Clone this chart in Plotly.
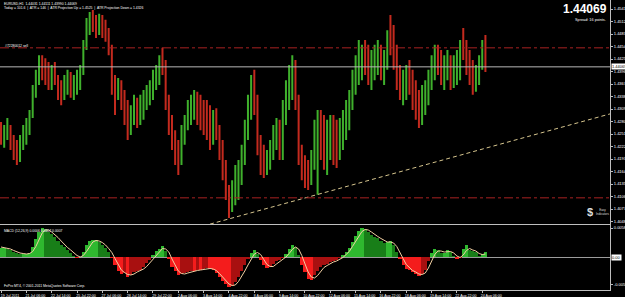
import plotly.graph_objects as go

open0 = 1.4249
highs = [1.4279, 1.4272, 1.4288, 1.4272, 1.4249, 1.4237, 1.4249, 1.4272, 1.4288, 1.4307,
         1.4365, 1.4400, 1.4434, 1.4434, 1.4427, 1.4418, 1.4411, 1.4418, 1.4388, 1.4376,
         1.4388, 1.4400, 1.4395, 1.4388, 1.4400, 1.4411, 1.4469, 1.4520, 1.4534, 1.4539,
         1.4527, 1.4530, 1.4527, 1.4516, 1.4497, 1.4458, 1.4388, 1.4381, 1.4376, 1.4353,
         1.4330, 1.4318, 1.4342, 1.4335, 1.4342, 1.4353, 1.4365, 1.4376, 1.4400, 1.4411,
         1.4434, 1.4451, 1.4423, 1.4342, 1.4295, 1.4260, 1.4237, 1.4272, 1.4295, 1.4330,
         1.4342, 1.4353, 1.4349, 1.4342, 1.4330, 1.4330, 1.4318, 1.4307, 1.4311, 1.4272,
         1.4237, 1.4191, 1.4133, 1.4144, 1.4179, 1.4191, 1.4226, 1.4284, 1.4342, 1.4388,
         1.4400, 1.4342, 1.4249, 1.4226, 1.4214, 1.4237, 1.4272, 1.4288, 1.4284, 1.4330,
         1.4376, 1.4411, 1.4434, 1.4423, 1.4342, 1.4226, 1.4202, 1.4191, 1.4214, 1.4284,
         1.4307, 1.4307, 1.4295, 1.4284, 1.4295, 1.4295, 1.4284, 1.4288, 1.4307, 1.4330,
         1.4353, 1.4400, 1.4434, 1.4469, 1.4458, 1.4469, 1.4458, 1.4446, 1.4458, 1.4469,
         1.4458, 1.4446, 1.4492, 1.4527, 1.4504, 1.4458, 1.4411, 1.4400, 1.4411, 1.4423,
         1.4400, 1.4376, 1.4353, 1.4365, 1.4376, 1.4400, 1.4434, 1.4458, 1.4458, 1.4446,
         1.4434, 1.4446, 1.4434, 1.4434, 1.4446, 1.4469, 1.4497, 1.4469, 1.4446, 1.4423,
         1.4411, 1.4434, 1.4469, 1.4481]
lows = [1.4226, 1.4219, 1.4237, 1.4214, 1.4191, 1.4179, 1.4186, 1.4214, 1.4226, 1.4249,
        1.4288, 1.4335, 1.4365, 1.4376, 1.4365, 1.4353, 1.4353, 1.4365, 1.4330, 1.4318,
        1.4330, 1.4342, 1.4335, 1.4330, 1.4342, 1.4353, 1.4388, 1.4446, 1.4481, 1.4488,
        1.4474, 1.4481, 1.4474, 1.4465, 1.4434, 1.4342, 1.4295, 1.4330, 1.4307, 1.4272,
        1.4237, 1.4249, 1.4272, 1.4265, 1.4272, 1.4284, 1.4307, 1.4318, 1.4330, 1.4353,
        1.4365, 1.4388, 1.4307, 1.4249, 1.4214, 1.4179, 1.4156, 1.4179, 1.4226, 1.4260,
        1.4272, 1.4284, 1.4272, 1.4260, 1.4249, 1.4237, 1.4214, 1.4226, 1.4237, 1.4191,
        1.4144, 1.4098, 1.4056, 1.4070, 1.4086, 1.4098, 1.4133, 1.4179, 1.4237, 1.4284,
        1.4295, 1.4202, 1.4156, 1.4149, 1.4156, 1.4168, 1.4191, 1.4214, 1.4191, 1.4191,
        1.4272, 1.4307, 1.4330, 1.4307, 1.4179, 1.4144, 1.4126, 1.4121, 1.4133, 1.4168,
        1.4110, 1.4191, 1.4168, 1.4156, 1.4191, 1.4179, 1.4172, 1.4191, 1.4214, 1.4237,
        1.4260, 1.4307, 1.4342, 1.4365, 1.4376, 1.4388, 1.4365, 1.4353, 1.4376, 1.4388,
        1.4376, 1.4365, 1.4400, 1.4434, 1.4400, 1.4353, 1.4330, 1.4318, 1.4330, 1.4342,
        1.4307, 1.4284, 1.4265, 1.4272, 1.4295, 1.4318, 1.4353, 1.4376, 1.4388, 1.4365,
        1.4353, 1.4376, 1.4353, 1.4358, 1.4365, 1.4376, 1.4423, 1.4388, 1.4365, 1.4342,
        1.4349, 1.4365, 1.4400, 1.4395]
closes = [1.4242, 1.4260, 1.4265, 1.4226, 1.4214, 1.4202, 1.4237, 1.4249, 1.4272, 1.4295,
          1.4349, 1.4381, 1.4411, 1.4400, 1.4388, 1.4376, 1.4395, 1.4381, 1.4349, 1.4342,
          1.4365, 1.4372, 1.4358, 1.4365, 1.4376, 1.4400, 1.4458, 1.4504, 1.4516, 1.4511,
          1.4497, 1.4511, 1.4492, 1.4481, 1.4446, 1.4365, 1.4353, 1.4358, 1.4330, 1.4307,
          1.4272, 1.4295, 1.4318, 1.4288, 1.4307, 1.4330, 1.4342, 1.4358, 1.4381, 1.4395,
          1.4423, 1.4411, 1.4330, 1.4272, 1.4237, 1.4202, 1.4191, 1.4249, 1.4284, 1.4307,
          1.4318, 1.4330, 1.4311, 1.4295, 1.4284, 1.4272, 1.4249, 1.4284, 1.4260, 1.4214,
          1.4168, 1.4110, 1.4086, 1.4121, 1.4144, 1.4168, 1.4202, 1.4260, 1.4318, 1.4353,
          1.4330, 1.4226, 1.4191, 1.4179, 1.4191, 1.4214, 1.4249, 1.4260, 1.4226, 1.4295,
          1.4342, 1.4376, 1.4400, 1.4330, 1.4202, 1.4168, 1.4156, 1.4144, 1.4191, 1.4237,
          1.4260, 1.4237, 1.4214, 1.4237, 1.4260, 1.4237, 1.4226, 1.4249, 1.4272, 1.4295,
          1.4330, 1.4365, 1.4400, 1.4423, 1.4434, 1.4423, 1.4400, 1.4411, 1.4434, 1.4446,
          1.4411, 1.4423, 1.4469, 1.4458, 1.4423, 1.4376, 1.4353, 1.4365, 1.4388, 1.4376,
          1.4342, 1.4307, 1.4295, 1.4330, 1.4353, 1.4376, 1.4411, 1.4434, 1.4423, 1.4400,
          1.4411, 1.4423, 1.4388, 1.4411, 1.4423, 1.4458, 1.4446, 1.4423, 1.4388, 1.4376,
          1.4400, 1.4423, 1.4446, 1.44069]

macd = [0.0018, 0.0018, 0.0016, 0.0014, 0.0010, 0.0008, 0.0006, 0.0006, 0.0006, 0.0008,
        0.0020, 0.0036, 0.0050, 0.0058, 0.0056, 0.0050, 0.0046, 0.0040, 0.0032, 0.0024,
        0.0020, 0.0014, 0.0008, 0.0002, -0.0002, 0.0000, 0.0010, 0.0024, 0.0032, 0.0034,
        0.0034, 0.0030, 0.0024, 0.0018, 0.0010, -0.0002, -0.0016, -0.0028, -0.0034, -0.0032,
        -0.0040, -0.0036, -0.0030, -0.0028, -0.0026, -0.0020, -0.0012, -0.0006, 0.0004, 0.0012,
        0.0016, 0.0022, 0.0012, -0.0004, -0.0020, -0.0028, -0.0036, -0.0034, -0.0032, -0.0030,
        -0.0028, -0.0028, -0.0026, -0.0026, -0.0024, -0.0022, -0.0024, -0.0026, -0.0032, -0.0040,
        -0.0048, -0.0054, -0.0060, -0.0058, -0.0050, -0.0040, -0.0028, -0.0016, -0.0004, 0.0008,
        0.0014, 0.0006, -0.0006, -0.0016, -0.0022, -0.0020, -0.0014, -0.0008, -0.0006, -0.0002,
        0.0006, 0.0016, 0.0024, 0.0020, 0.0004, -0.0016, -0.0030, -0.0044, -0.0046, -0.0036,
        -0.0028, -0.0020, -0.0016, -0.0014, -0.0010, -0.0008, -0.0006, -0.0002, 0.0004, 0.0010,
        0.0018, 0.0030, 0.0042, 0.0052, 0.0058, 0.0056, 0.0050, 0.0044, 0.0040, 0.0038,
        0.0032, 0.0028, 0.0030, 0.0032, 0.0024, 0.0010, -0.0004, -0.0016, -0.0024, -0.0026,
        -0.0030, -0.0034, -0.0038, -0.0034, -0.0026, -0.0008, 0.0008, 0.0016, 0.0014, 0.0008,
        0.0008, 0.0014, 0.0010, 0.0002, -0.0004, -0.0002, 0.0016, 0.0024, 0.0014, 0.0012,
        0.0010, 0.0002, 0.0006, 0.0010]
signal = [0.0020, 0.0019, 0.0018, 0.0016, 0.0013, 0.0010, 0.0008, 0.0007, 0.0006, 0.0007,
          0.0011, 0.0021, 0.0035, 0.0048, 0.0054, 0.0054, 0.0050, 0.0045, 0.0039, 0.0032,
          0.0025, 0.0019, 0.0014, 0.0008, 0.0003, 0.0000, 0.0003, 0.0011, 0.0022, 0.0030,
          0.0033, 0.0032, 0.0029, 0.0024, 0.0017, 0.0009, -0.0003, -0.0015, -0.0026, -0.0031,
          -0.0035, -0.0036, -0.0034, -0.0030, -0.0027, -0.0024, -0.0019, -0.0012, -0.0004, 0.0003,
          0.0011, 0.0017, 0.0016, 0.0010, -0.0004, -0.0017, -0.0028, -0.0033, -0.0034, -0.0032,
          -0.0030, -0.0029, -0.0027, -0.0026, -0.0025, -0.0024, -0.0023, -0.0024, -0.0027, -0.0033,
          -0.0040, -0.0047, -0.0054, -0.0057, -0.0056, -0.0049, -0.0039, -0.0028, -0.0016, -0.0004,
          0.0006, 0.0009, 0.0005, -0.0005, -0.0015, -0.0019, -0.0019, -0.0014, -0.0009, -0.0005,
          0.0000, 0.0007, 0.0015, 0.0020, 0.0016, 0.0003, -0.0014, -0.0030, -0.0040, -0.0042,
          -0.0037, -0.0028, -0.0021, -0.0017, -0.0013, -0.0010, -0.0008, -0.0005, -0.0001, 0.0005,
          0.0011, 0.0021, 0.0032, 0.0043, 0.0051, 0.0055, 0.0054, 0.0050, 0.0045, 0.0041,
          0.0037, 0.0033, 0.0030, 0.0030, 0.0028, 0.0021, 0.0010, -0.0003, -0.0015, -0.0022,
          -0.0027, -0.0030, -0.0034, -0.0035, -0.0032, -0.0022, -0.0008, 0.0005, 0.0012, 0.0012,
          0.0010, 0.0010, 0.0011, 0.0008, 0.0002, -0.0001, 0.0004, 0.0013, 0.0017, 0.0014,
          0.0012, 0.0007, 0.0005, 0.0006]

bars_per_candle = 4          # H1 bars per drawn bar
time_labels = ["19 Jul 2011", "21 Jul 06:00", "22 Jul 14:00", "25 Jul 22:00", "27 Jul 06:00",
               "28 Jul 14:00", "29 Jul 22:00", "2 Aug 06:00", "3 Aug 14:00", "4 Aug 22:00",
               "8 Aug 06:00", "9 Aug 14:00", "10 Aug 22:00", "12 Aug 06:00", "15 Aug 14:00",
               "16 Aug 22:00", "18 Aug 06:00", "19 Aug 14:00", "22 Aug 22:00", "24 Aug 06:00"]
bars_per_label = 32
price_ticks = [1.45411, 1.45121, 1.44831, 1.44541, 1.44251, 1.43961, 1.43671, 1.43381,
               1.43091, 1.42801, 1.42511, 1.42221, 1.41931, 1.41641, 1.41351, 1.41061,
               1.40771, 1.40481]
bid_price = 1.44069
sell_order_price = 1.4451
stop_level_price = 1.4103
trend_bar = [264, 770]
trend_price = [1.4042, 1.4298]
macd_ticks = [0.0058, -0.0055]
macd_tick_text = ["0.0058", "-0.0055"]

# ---------------- figure ----------------
x_idx = [i * bars_per_candle for i in range(len(closes))]
opens = [open0] + closes[:-1]
GREEN, RED = "#3FB02C", "#C32A1E"
AXC = "#BEBEBE"
FONT = "Liberation Sans"

W, H = 625, 297
PW = 610

def py(yp):
    return (H - yp) / H

def px(xp):
    return xp / PW

fig = go.Figure()
fig.add_trace(go.Ohlc(
    x=x_idx, open=opens, high=highs, low=lows, close=closes, tickwidth=0.25,
    increasing=dict(line=dict(color=GREEN, width=2)),
    decreasing=dict(line=dict(color=RED, width=2)),
    xaxis="x", yaxis="y", hoverinfo="skip", showlegend=False))

fig.add_trace(go.Scatter(
    x=trend_bar, y=trend_price, mode="lines",
    line=dict(color="#D6C58E", width=1, dash="4px,3px"),
    xaxis="x", yaxis="y", hoverinfo="skip", showlegend=False))

hist_colors = []
prev = macd[0]
for v in macd:
    if v >= 0:
        hist_colors.append("#2FB82F" if v >= prev else "#187E18")
    else:
        hist_colors.append("#F41C1C" if v <= prev else "#A81010")
    prev = v

fig.add_trace(go.Bar(
    x=x_idx, y=macd, width=bars_per_candle, marker=dict(color=hist_colors, line=dict(width=0)),
    xaxis="x2", yaxis="y2", hoverinfo="skip", showlegend=False))
fig.add_trace(go.Scatter(
    x=x_idx, y=signal, mode="lines", line=dict(color="#F2CFA2", width=1),
    xaxis="x2", yaxis="y2", hoverinfo="skip", showlegend=False))

xr = [-1.3, 769.4]
fig.update_layout(
    width=W, height=H, margin=dict(l=0, r=W - PW, t=0, b=0),
    paper_bgcolor="black", plot_bgcolor="black",
    bargap=0, showlegend=False, hovermode=False,
    font=dict(family=FONT, color="white", size=4),
    xaxis=dict(domain=[0, 1], range=xr, anchor="y", showticklabels=False, showgrid=False,
               zeroline=False, showline=True, linecolor=AXC, linewidth=1,
               rangeslider=dict(visible=False), fixedrange=True),
    yaxis=dict(domain=[py(224), 1], range=[1.40423, 1.4562], side="right", anchor="x",
               tickvals=price_ticks, tickformat=".5f", tickfont=dict(size=4, color="white"),
               ticks="outside", ticklen=2, tickcolor=AXC, showline=True, linecolor=AXC,
               linewidth=1, showgrid=False, zeroline=False, automargin=False),
    xaxis2=dict(domain=[0, 1], range=xr, anchor="y2", matches="x",
                tickvals=[i * bars_per_label for i in range(len(time_labels))],
                ticktext=time_labels, tickfont=dict(size=3.6, color="white"),
                ticks="outside", ticklen=2, tickcolor=AXC, ticklabelshift=9,
                showline=True, linecolor=AXC, linewidth=1, showgrid=False,
                zeroline=False, automargin=False),
    yaxis2=dict(domain=[py(290), py(225)], range=[-0.0066, 0.0064], side="right", anchor="x2",
                tickvals=macd_ticks, ticktext=macd_tick_text, tickfont=dict(size=4, color="white"),
                ticks="outside", ticklen=2, tickcolor=AXC, showline=True, linecolor=AXC,
                linewidth=1, showgrid=False, zeroline=True, zerolinecolor="#9C9C9C",
                zerolinewidth=1, automargin=False),
)

shapes = [
    dict(type="line", xref="paper", x0=0, x1=1, yref="y", y0=sell_order_price, y1=sell_order_price,
         line=dict(color="#A82222", width=1, dash="dashdot")),
    dict(type="line", xref="paper", x0=0, x1=1, yref="y", y0=stop_level_price, y1=stop_level_price,
         line=dict(color="#A82222", width=1, dash="dashdot")),
    dict(type="line", xref="paper", x0=0, x1=1, yref="y", y0=bid_price, y1=bid_price,
         line=dict(color="#B8B8B8", width=1)),
]
fig.update_layout(shapes=shapes)

def note(xp, yp, text, size, color="white", xanchor="left", yanchor="middle", **kw):
    fig.add_annotation(xref="paper", yref="paper", x=px(xp), y=py(yp), text=text,
                       showarrow=False, xanchor=xanchor, yanchor=yanchor,
                       font=dict(size=size, color=color, family=FONT), **kw)

note(2, 3.5, "EURUSD,H1  1.44031 1.44111 1.43990 1.44069", 3.4)
note(2, 8, "Today = 101.6  |  ATR = 146  |  ATR Projection Up = 1.4525  |  ATR Projection Down = 1.4326", 3.4)
note(609, 8.5, "<b>1.44069</b>", 12, xanchor="right")
note(608, 20, "Spread: 16 points.", 3.8, xanchor="right")
note(3, 45.5, "#72280012 sell", 3.4)
note(2, 231.5, "MACD (12,26,9) 0.0006 0.0007 0.0007", 3.4)
note(2, 286, "FxPro MT4, \u00a9 2001-2011 MetaQuotes Software Corp.", 3.4)
note(590, 212, "<b>$</b>", 11, color="#DDDDDD", xanchor="center")
note(594, 212, "Easy<br>Indicators", 3, color="#DDDDDD")

fig.add_annotation(xref="paper", yref="y", x=1, y=bid_price, text="1.44069", showarrow=False,
                   xanchor="left", yanchor="middle", xshift=1, bgcolor="white",
                   font=dict(size=4, color="black", family=FONT), borderpad=0)
fig.add_annotation(xref="paper", yref="y2", x=1, y=0, text="0.00", showarrow=False,
                   xanchor="left", yanchor="middle", xshift=1, bgcolor="white",
                   font=dict(size=4, color="black", family=FONT), borderpad=0)

fig.write_html("out.html", config={"displayModeBar": False})
